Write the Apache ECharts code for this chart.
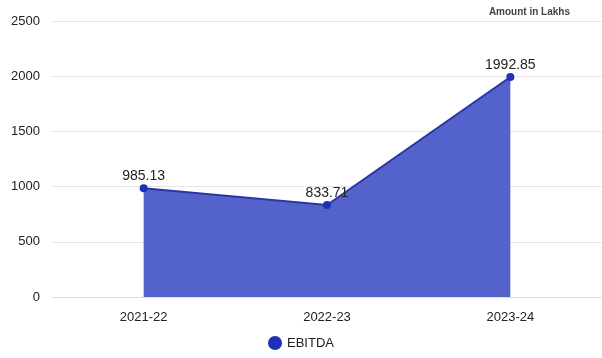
<!DOCTYPE html>
<html><head><meta charset="utf-8">
<script src="https://cdn.jsdelivr.net/npm/echarts@6/dist/echarts.min.js"></script>
<style>html,body{margin:0;padding:0;background:#fff}#c{width:602px;height:358px}</style>
</head><body><div id="c"></div>
<script>
var categories = ['2021-22', '2022-23', '2023-24'];
var ebitda = [985.13, 833.71, 1992.85];
var seriesName = 'EBITDA';
var chart = echarts.init(document.getElementById('c'));
chart.setOption({
  animation: false,
  textStyle: {fontFamily: 'Liberation Sans, Arial, sans-serif'},
  title: {text: 'Amount in Lakhs', right: 27, top: 2,
    textStyle: {fontSize: 10, fontWeight: 'bold', color: '#444', fontFamily: 'Liberation Sans, Arial, sans-serif'}},
  legend: {bottom: 3, left: 'center', icon: 'circle', itemWidth: 14, itemHeight: 14,
    textStyle: {fontSize: 13, color: '#222'}, data: [seriesName]},
  grid: {left: 52, width: 553, top: 21, bottom: 61, containLabel: false},
  xAxis: {type: 'category', data: categories, boundaryGap: true,
    axisLine: {show: true, lineStyle: {color: '#ddd'}}, axisTick: {show: false},
    axisLabel: {fontSize: 13, color: '#222', margin: 14}},
  yAxis: {type: 'value', min: 0, max: 2500, interval: 500,
    axisLine: {show: false}, axisTick: {show: false},
    splitLine: {lineStyle: {color: '#e6e6e6'}},
    axisLabel: {fontSize: 13, color: '#222', margin: 12, formatter: function (v) { return String(v); }}},
  series: [{
    name: seriesName, type: 'line', data: ebitda,
    symbol: 'circle', symbolSize: 8,
    itemStyle: {color: '#1f30b5'},
    lineStyle: {color: '#2a36a8', width: 2},
    areaStyle: {color: '#5462cc', opacity: 1},
    label: {show: true, position: 'top', fontSize: 14, color: '#222', distance: 1}
  }]
});
</script></body></html>
